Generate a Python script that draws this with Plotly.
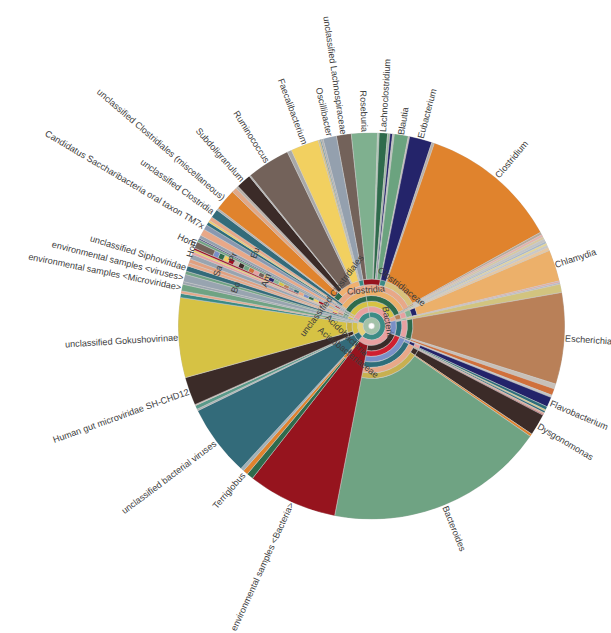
import math
import plotly.graph_objects as go

# ------------------------------------------------------------------
# Taxonomy lineages (inner rings are built from these paths)
# ------------------------------------------------------------------
ROOT = ["root"]
CELL = ROOT + ["cellular organisms"]
BAC = CELL + ["Bacteria"]
TERRA = BAC + ["Terrabacteria group"]
FIRM = TERRA + ["Firmicutes"]
CLA = FIRM + ["Clostridia"]
CLO = CLA + ["Clostridiales"]
FCB = BAC + ["FCB group", "Bacteroidetes/Chlorobi group", "Bacteroidetes"]
BDIA = FCB + ["Bacteroidia", "Bacteroidales"]
PROT = BAC + ["Proteobacteria"]
GAMMA = PROT + ["Gammaproteobacteria"]
PVC = BAC + ["PVC group"]
VIR = ROOT + ["Viruses"]
MICRO = VIR + ["Microviridae"]
EUKX = CELL + ["Eukaryota", "Opisthokonta", "Metazoa", "Eumetazoa", "Bilateria",
               "Deuterostomia", "Chordata", "Craniata", "Vertebrata", "Gnathostomata",
               "Teleostomi", "Euteleostomi"]
HOMO = EUKX + ["Sarcopterygii", "Dipnotetrapodomorpha", "Tetrapoda", "Amniota", "Mammalia",
               "Theria", "Eutheria", "Boreoeutheria", "Euarchontoglires", "Primates",
               "Haplorrhini", "Simiiformes", "Catarrhini", "Hominoidea", "Hominidae",
               "Homininae", "Homo"]

LINEAGE = {
    "LACH": CLO + ["Lachnospiraceae"],
    "EUBF": CLO + ["Eubacteriaceae"],
    "CLOF": CLO + ["Clostridiaceae"],
    "PEPTO": CLO + ["Peptostreptococcaceae"],
    "PEPC": CLO + ["Peptococcaceae"],
    "UCLO": CLO + ["unclassified Clostridiales"],
    "RUMI": CLO + ["Ruminococcaceae"],
    "OSCI": CLO + ["Oscillospiraceae"],
    "UCLA": CLA,
    "THERMO": CLA + ["Thermoanaerobacterales"],
    "ERYS": FIRM + ["Erysipelotrichia", "Erysipelotrichales", "Erysipelotrichaceae"],
    "NEGA": FIRM + ["Negativicutes", "Veillonellales", "Veillonellaceae"],
    "BACI": FIRM + ["Bacilli", "Lactobacillales"],
    "TISS": FIRM + ["Tissierellia", "Tissierellales"],
    "TENE": TERRA + ["Tenericutes", "Mollicutes"],
    "ACTI": TERRA + ["Actinobacteria", "Coriobacteriia", "Eggerthellales"],
    "CHLA": PVC + ["Chlamydiae", "Chlamydiia", "Chlamydiales", "Chlamydiaceae"],
    "VERR": PVC + ["Verrucomicrobia", "Verrucomicrobiae"],
    "BETA": PROT + ["Betaproteobacteria", "Burkholderiales"],
    "ENT": GAMMA + ["Enterobacterales", "Enterobacteriaceae"],
    "PAST": GAMMA + ["Pasteurellales", "Pasteurellaceae"],
    "DELTA": PROT + ["delta/epsilon subdivisions", "Deltaproteobacteria"],
    "FLAV": FCB + ["Flavobacteriia", "Flavobacteriales", "Flavobacteriaceae"],
    "PORPH": BDIA + ["Porphyromonadaceae"],
    "TANN": BDIA + ["Tannerellaceae"],
    "DYS": BDIA + ["Dysgonomonadaceae"],
    "BACT": BDIA + ["Bacteroidaceae"],
    "ENVB": BAC,
    "ACID": BAC + ["Acidobacteria", "Acidobacteriia", "Acidobacteriales", "Acidobacteriaceae"],
    "TM7": BAC + ["Candidatus Saccharibacteria"],
    "UNV": VIR + ["unclassified viruses"],
    "UMICRO": MICRO + ["unclassified Microviridae"],
    "GOKU": MICRO + ["Gokushovirinae"],
    "MICRO": MICRO,
    "VIR": VIR,
    "CAUDO": VIR + ["Caudovirales", "Siphoviridae"],
    "EUKX": EUKX,
    "HOMO": HOMO,
}

# ------------------------------------------------------------------
# Leaf taxa (clockwise), relative abundance, colour, lineage key
# ------------------------------------------------------------------
LEAF_NAMES = [
    "unclassified Lachnospiraceae", "Roseburia", "", "Lachnoclostridium", "", "", "", "Blautia",
    "", "Eubacterium", "", "Clostridium", "", "", "", "", "", "", "", "",
    "Chlamydia", "", "", "", "Escherichia", "", "", "", "Flavobacterium", "", "", "", "", "",
    "Dysgonomonas", "", "Bacteroides", "environmental samples <Bacteria>", "", "Terriglobus", "",
    "unclassified bacterial viruses", "", "", "", "Human gut microviridae SH-CHD12",
    "unclassified Gokushovirinae", "", "", "environmental samples <Microviridae>", "",
    "environmental samples <viruses>", "", "unclassified Siphoviridae", "", "", "", "", "",
    "", "Homo sapiens", "", "", "", "", "Candidatus Saccharibacteria oral taxon TM7x",
    "", "", "", "unclassified Clostridia", "", "unclassified Clostridiales (miscellaneous)",
    "", "", "Subdoligranulum", "", "Ruminococcus", "", "Faecalibacterium", "", "", "",
    "Oscillibacter",
]
LEAF_VALUES = [
    4.5, 7.8, 0.5, 2.5, 0.7, 0.8, 0.5, 4.2,
    0.4, 6.8, 0.8, 42.0, 0.8, 0.7, 0.8, 0.8, 0.6, 0.6, 0.7, 1.0,
    9.5, 0.5, 0.5, 2.5, 27.5, 1.5, 2.0, 0.7, 3.0, 1.0, 0.4, 0.6, 0.5, 0.3,
    6.5, 0.8, 66.2, 27.0, 2.0, 1.5, 1.0,
    21.5, 0.5, 1.2, 0.3, 8.5,
    24.0, 1.2, 0.8, 2.0, 0.8,
    2.2, 1.0, 1.6, 1.0, 1.2, 1.5, 0.8, 0.6,
    0.6, 2.0, 0.8, 0.4, 1.0, 2.0, 1.5,
    1.0, 0.6, 1.2, 2.6, 0.6, 6.5,
    1.5, 0.8, 4.5, 0.4, 13.0, 1.3, 8.5, 0.6, 0.3, 0.6,
    4.0,
]
LEAF_COLORS = [
    "#73625a", "#7fb08f", "#a8c8b0", "#2f6b4c", "#9ab8a0", "#23236a", "#b8c4b8", "#6ba37f",
    "#c0b8b0", "#24246a", "#b8b0a8", "#e0832d", "#b8a898", "#e8b0a8", "#d8c8a0", "#c4c4c4",
    "#a8b8c8", "#e8d890", "#c8c8c8", "#e8c8a0",
    "#ecb06a", "#e8a8a0", "#b8b8c8", "#d2c47f", "#b98058", "#c8c0b8", "#d0703c", "#c4c4c4",
    "#23236a", "#2e6e7a", "#e0d060", "#336b7a", "#e0a890", "#d02030",
    "#3b2b28", "#e0832d", "#6fa383", "#96141e", "#2f6b4c", "#e0832d", "#a0b0b8",
    "#336b7a", "#a8b0b0", "#5a9a8a", "#d8b8a8", "#3b2b28",
    "#d6c244", "#3a8a84", "#e8a888", "#6fa383", "#9aa4ae",
    "#98a4b0", "#6fa383", "#336b7a", "#e8a888", "#e0a080", "#98a4b0", "#e8a0a0", "#f2d060",
    "#a01020", "#73625a", "#6fa383", "#23236a", "#94a0ae", "#e8a888", "#8898b0",
    "#2e6e7a", "#f2d060", "#e8a888", "#336b7a", "#b0b0b0", "#e0832d",
    "#e0a888", "#b8b0a8", "#3b2b28", "#b0b0b0", "#73625a", "#a8a8a8", "#f2d060", "#d8c080",
    "#2e6e7a", "#b0b0b0",
    "#94a0ae",
]
LEAF_GROUPS = [
    "LACH", "LACH", "LACH", "LACH", "LACH", "LACH", "LACH", "LACH",
    "EUBF", "EUBF", "CLOF", "CLOF", "CLOF", "PEPTO", "PEPTO", "ERYS", "NEGA", "NEGA", "BACI", "ACTI",
    "CHLA", "VERR", "VERR", "BETA", "ENT", "ENT", "PAST", "DELTA", "FLAV", "FLAV", "PORPH", "PORPH",
    "TANN", "TANN",
    "DYS", "BACT", "BACT", "ENVB", "ACID", "ACID", "ACID",
    "UNV", "UNV", "UMICRO", "UMICRO", "UMICRO",
    "GOKU", "GOKU", "MICRO", "MICRO", "VIR",
    "VIR", "CAUDO", "CAUDO", "BACI", "BACI", "ACTI", "ACTI", "ACTI",
    "EUKX", "HOMO", "TENE", "TISS", "ACTI", "BACI", "TM7",
    "PEPC", "THERMO", "TISS", "UCLA", "UCLO", "UCLO",
    "UCLO", "RUMI", "RUMI", "RUMI", "RUMI", "RUMI", "RUMI", "OSCI", "OSCI", "OSCI",
    "OSCI",
]
OUTER_TEXT = {"Homo sapiens": "Hom"}

INNER_COLORS = {
    "root": "#a3c2a9", "cellular organisms": "#3d8c86", "Bacteria": "#e8a0a0",
    "Terrabacteria group": "#d6c244", "Firmicutes": "#2f6b4c", "Clostridia": "#ecb06a",
    "Clostridiales": "#e8a888", "Lachnospiraceae": "#96141e", "Eubacteriaceae": "#3a8a84",
    "Clostridiaceae": "#d9c27c", "Ruminococcaceae": "#f0b070", "Oscillospiraceae": "#3a8a84",
    "unclassified Clostridiales": "#2f6b4c",
    "Viruses": "#e6d27a", "unclassified viruses": "#2e6e7a", "Microviridae": "#d6c244",
    "Gokushovirinae": "#c8b040", "unclassified Microviridae": "#3b2b28",
    "Caudovirales": "#6fa383", "Siphoviridae": "#336b7a",
    "Proteobacteria": "#7a90c8", "Gammaproteobacteria": "#2e6e7a",
    "Enterobacterales": "#e8a0a0", "Enterobacteriaceae": "#2f6b4c",
    "FCB group": "#3b2b28", "Bacteroidetes/Chlorobi group": "#d02030",
    "Bacteroidetes": "#7a90c8", "Bacteroidia": "#2e6e7a", "Bacteroidales": "#e8a888",
    "Bacteroidaceae": "#c8b050",
    "PVC group": "#e8a888", "Chlamydiae": "#b98058", "Chlamydiia": "#e8a0a0",
    "Chlamydiales": "#84b494", "Chlamydiaceae": "#23236a",
    "Acidobacteria": "#2f6b4c", "Acidobacteriaceae": "#e0832d",
}
PALETTE = ["#73625a", "#e8a0a0", "#d0703c", "#6fa383", "#3b2b28", "#c8b8a8", "#a01020",
           "#f2d060", "#2f6b4c", "#7a90c8", "#e8a888", "#336b7a", "#94a0ae", "#b98058",
           "#d6c244", "#84b494", "#24246a", "#ecb06a"]

INNER_LABELS = [  # text, angle, radius, text angle
    ("Bacteria", 80, 16.7, 80),
    ("Clostridia", -8, 36, -5),
    ("Clostridiaceae", 38, 50, 38),
    ("unclassified Clostridiales", 307, 50, -53),
    ("Acidobacteria", 248, 26, 44),
    ("Acidobacteriaceae", 220.3, 34.8, 39),
    ("Sa", 290, 163, -70),
    ("Pr", 296.5, 155, -70),
    ("Bo", 286, 141, -70),
    ("Eu", 302, 137, -70),
    ("Am", 293.6, 115, -70),
    ("Hom", 293.5, 196, -75),
]

# ------------------------------------------------------------------
# Geometry (pixels)
# ------------------------------------------------------------------
W, H = 611, 633
CX, CY = 371.5, 326.0
R_OUT = 193.5
R_IN = 3.0
RING = 5.5
START = -10.5
GAP = 0.8
FONT = "Liberation Sans, Arial, sans-serif"
FSIZE = 9.1
TXT = "#3d3d3d"
EDGE = "#c9c9c9"

n = len(LEAF_NAMES)
total = sum(LEAF_VALUES)
deg = [v * 360.0 / total for v in LEAF_VALUES]
starts = []
a = START
for d in deg:
    starts.append(a)
    a += d
paths = [LINEAGE[k] for k in LEAF_GROUPS]

# inner ring nodes: contiguous runs sharing the same path prefix
inner = []
maxd = max(len(p) for p in paths)
for d in range(maxd):
    i = 0
    while i < n:
        if len(paths[i]) > d:
            key = tuple(paths[i][:d + 1])
            j = i
            while j + 1 < n and len(paths[j + 1]) > d and tuple(paths[j + 1][:d + 1]) == key:
                j += 1
            inner.append((key[-1], d, starts[i], starts[j] + deg[j]))
            i = j + 1
        else:
            i += 1

color_of = dict(INNER_COLORS)
k = 0
for name, d, a0, a1 in inner:
    if name not in color_of:
        color_of[name] = PALETTE[k % len(PALETTE)]
        k += 1

fig = go.Figure()
fig.add_trace(go.Barpolar(
    theta=[(a0 + a1) / 2 for _, _, a0, a1 in inner],
    width=[a1 - a0 for _, _, a0, a1 in inner],
    base=[R_IN + d * RING for _, d, _, _ in inner],
    r=[RING for _ in inner],
    marker=dict(color=[color_of[nm] for nm, _, _, _ in inner], line=dict(color=EDGE, width=0.5)),
    hoverinfo="skip", showlegend=False,
))
leaf_base = [R_IN + len(p) * RING for p in paths]
fig.add_trace(go.Barpolar(
    theta=[s + w / 2 for s, w in zip(starts, deg)],
    width=deg,
    base=leaf_base,
    r=[R_OUT - b for b in leaf_base],
    marker=dict(color=LEAF_COLORS, line=dict(color=EDGE, width=0.5)),
    hoverinfo="skip", showlegend=False,
))

# text width estimate (Arial metrics, em units)
def char_w(c):
    if c in "ijl": return 0.222
    if c in " ftI.,:;!'": return 0.278
    if c in "r()-": return 0.333
    if c in "cksvxyzJ": return 0.5
    if c in "<>": return 0.584
    if c in "FTZ": return 0.611
    if c in "ABEKPSVXY": return 0.667
    if c in "wCDHNRU": return 0.722
    if c in "GOQ": return 0.778
    if c in "mM": return 0.833
    if c == "W": return 0.944
    return 0.556

def text_len(s):
    return sum(char_w(c) for c in s) * FSIZE

def to_paper(theta, r):
    t = math.radians(theta)
    px = CX + r * math.sin(t)
    py = CY - r * math.cos(t)
    return px / W, 1 - py / H

annotations = []
for name, s, w in zip(LEAF_NAMES, starts, deg):
    if not name:
        continue
    label = OUTER_TEXT.get(name, name)
    th = (s + w / 2) % 360
    rc = R_OUT + GAP + text_len(label) / 2
    x, y = to_paper(th, rc)
    ta = th - 90 if th < 180 else th - 270
    annotations.append(dict(x=x, y=y, xref="paper", yref="paper", text=label,
                            showarrow=False, textangle=ta, xanchor="center", yanchor="middle",
                            font=dict(family=FONT, size=FSIZE, color=TXT)))
for label, th, r, ta in INNER_LABELS:
    x, y = to_paper(th, r)
    annotations.append(dict(x=x, y=y, xref="paper", yref="paper", text=label,
                            showarrow=False, textangle=ta, xanchor="center", yanchor="middle",
                            font=dict(family=FONT, size=FSIZE, color=TXT)))

fig.update_layout(
    width=W, height=H,
    margin=dict(l=0, r=0, t=0, b=0),
    paper_bgcolor="white",
    showlegend=False,
    polar=dict(
        domain=dict(x=[(CX - R_OUT) / W, (CX + R_OUT) / W],
                    y=[1 - (CY + R_OUT) / H, 1 - (CY - R_OUT) / H]),
        bgcolor="white",
        barmode="overlay",
        bargap=0,
        radialaxis=dict(range=[0, R_OUT], visible=False, showgrid=False),
        angularaxis=dict(rotation=90, direction="clockwise", visible=False, showgrid=False),
    ),
    annotations=annotations,
)
fig.write_html(
    "out.html",
    config={"displayModeBar": False},
    post_script="document.documentElement.style.margin='0';"
                "document.body.style.margin='0';document.body.style.overflow='hidden';",
)
